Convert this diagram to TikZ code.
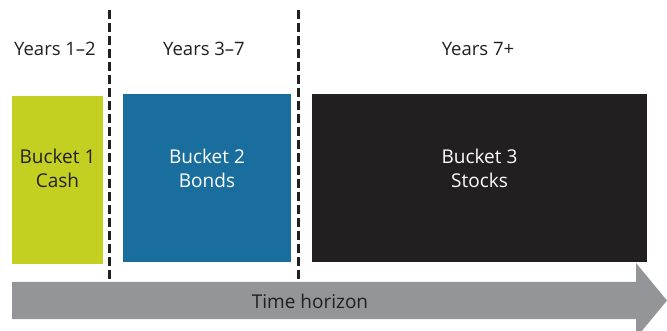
\documentclass[tikz,border=0pt]{standalone}
\usepackage{fontspec}
\setmainfont{Open Sans}
\definecolor{cgreen}{HTML}{C3D021}
\definecolor{cblue}{HTML}{1A6E9E}
\definecolor{cblack}{HTML}{231F20}
\definecolor{cgray}{HTML}{939598}
\definecolor{ctext}{HTML}{231F20}
\begin{document}
\begin{tikzpicture}[x=1pt,y=-1pt,
  box/.style={draw=none,inner sep=0pt,minimum height=168pt},
  bucket/.style={inner sep=0pt,align=center,font=\fontsize{19}{24}\selectfont},
  yearlabel/.style={inner sep=0pt,text=ctext,font=\fontsize{18.5}{22}\selectfont},
  divider/.style={line width=3pt,cblack,dash pattern=on 9pt off 4pt}]
\useasboundingbox (0,0) rectangle (667,331);
% dividers
\coordinate (d1t) at (109,10);
\coordinate (d1b) at (109,285);
\coordinate (d2t) at (298,10);
\coordinate (d2b) at (298,285);
\draw[divider] (d1t) -- (d1b);
\draw[divider] (d2t) -- (d2b);
% year labels
\node[yearlabel] (y1) at (55,49) {Years 1–2};
\node[yearlabel] (y2) at (204,49) {Years 3–7};
\node[yearlabel] (y3) at (478,49) {Years 7+};
% buckets
\node[box,fill=cgreen,minimum width=91pt] (b1) at (57.5,180) {};
\node[box,fill=cblue,minimum width=168pt] (b2) at (207,178) {};
\node[box,fill=cblack,minimum width=335pt] (b3) at (479.5,178) {};
\node[bucket,text=ctext] (t1) at (57.5,168) {Bucket 1\\Cash};
\node[bucket,text=white] (t2) at (207,168) {Bucket 2\\Bonds};
\node[bucket,text=white] (t3) at (479.5,168) {Bucket 3\\Stocks};
% time arrow
\fill[cgray] (12,282) -- (636,282) -- (636,263) -- (667,300.5) -- (636,338) -- (636,319) -- (12,319) -- cycle;
\node[yearlabel,font=\fontsize{19}{22}\selectfont] (th) at (310,301) {Time horizon};
\end{tikzpicture}
\end{document}
